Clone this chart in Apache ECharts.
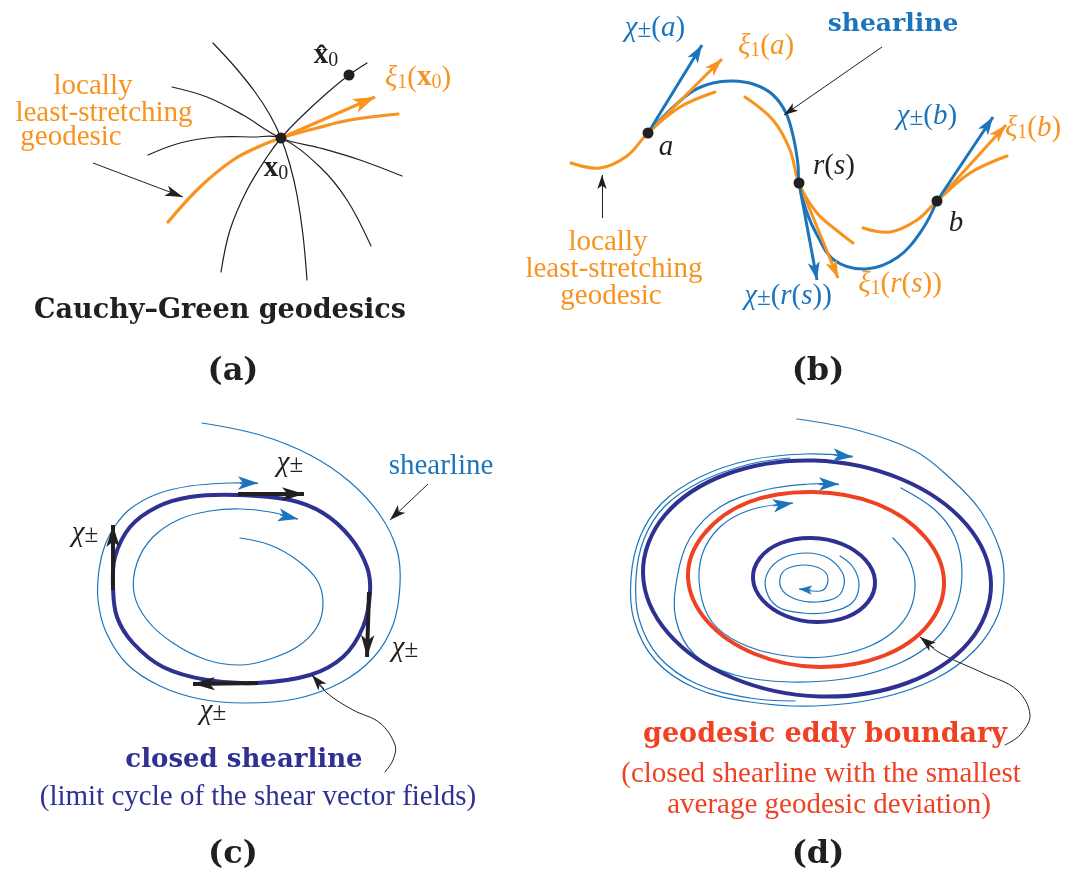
<!DOCTYPE html>
<html>
<head>
<meta charset="utf-8">
<script src="https://cdn.jsdelivr.net/npm/echarts@6/dist/echarts.min.js"></script>
<style>
html,body{margin:0;padding:0;background:#fff;}
#chart{width:1067px;height:879px;}
</style>
</head>
<body>
<div id="chart"></div>
<script>
// ---------- Panel (a): Cauchy–Green geodesics ----------
const geoA1 = [[213,43],[235,67],[255,92],[270,115],[281,138],[290,165],[297,195],[303,235],[307,280]];
const geoA2 = [[221,272],[230,230],[247,190],[267,157],[281,138],[300,118],[327,93],[349,75],[367,63]];
const geoA3 = [[172,87],[207,97],[243,115],[281,138],[320,148],[360,160],[402,176]];
const geoA4 = [[148,155],[180,143],[217,137],[253,137],[281,138],[320,167],[347,200],[371,246]];
const leastA = [[168,222],[200,187],[233,160],[258,147],[281,138],[317,128],[350,120],[398,114]];
const arrowXiA = [[281,138],[375,97]];
const pointerA = [[93,163],[183,197]];
const dotsA = [[281,138],[349,75]];

// ---------- Panel (b): shearline ----------
const shearB = [[648,133],[670,110],[693,91],[713,83],[733,81],[753,84],[772,94],[786,113],[794,140],[798,165],[799,183],[806,210],[816,233],[834,260],[866,269],[898,257],[922,230],[937,201]];
const leastB1 = [[571,163],[600,168],[627,156],[648,133],[680,107],[715,92]];
const leastB2 = [[745,97],[773,120],[790,150],[799,183],[817,213],[840,233],[853,243]];
const leastB3 = [[863,228],[890,232],[917,220],[937,201],[970,173],[1007,156]];
const chiB = [[[648,133],[702,45]],[[799,183],[817,280]],[[937,201],[993,117]]];
const xiB = [[[648,133],[722,59]],[[799,183],[838,278]],[[937,201],[1006,125]]];
const pointersB = [[[882,47],[784,115]],[[602,218],[602,175]]];
const dotsB = [[648,133],[799,183],[937,201]];

// ---------- Panel (c): closed shearline ----------
const closedC = [[237,495],[290,500],[323,513],[350,537],[367,567],[370,593],[363,627],[343,657],[310,675],[257,683],[207,680],[163,667],[133,643],[117,617],[113,587],[115,557],[130,527],[157,507],[190,497]];
const spiralC1 = [[202,423],[260,435],[310,455],[350,482],[380,515],[397,550],[400,585],[393,625],[373,658],[340,683],[295,699],[245,703],[200,699],[160,686],[127,664],[106,632],[98,600],[99,570],[105,545],[115,526],[130,509],[157,494],[190,486],[230,483],[257,483]];
const spiralC2 = [[240,538],[270,545],[297,560],[317,580],[323,603],[317,627],[297,647],[267,660],[240,665],[207,660],[173,643],[147,620],[134,593],[137,563],[153,537],[180,519],[210,511],[240,509],[270,512],[297,519]];
const headsC = [[[240,483],[258,483]],[[280,515],[298,519]]];
const chiC = [[[238,494],[304,494]],[[113,590],[113,525]],[[369,592],[367,657]],[[258,683],[193,684]]];
const pointerC1 = [[[428,484],[390,520]]];
const curlC = [[385,772],[393,760],[395,745],[380,723],[353,710],[327,693],[312,675]];
const curlHeadC = [[[324,689],[312,675]]];

// ---------- Panel (d): geodesic eddy boundary ----------
const outerD = [[991,583.5],[969,642],[907,683],[820,696.5],[733,678],[668,633],[643,573.5],[665,515],[727,474],[814,460.5],[901,479],[966,524]];
const redD = [[944,581],[928,625],[883,656],[819,667],[755,654],[707,621],[688,577],[704,534],[749,502],[813,492],[877,504],[925,537]];
const innerD = [[875,581],[868,602],[847,617],[816.5,622],[786,616],[762.5,600],[753,579],[760,558],[781,543],[811.5,538],[842,544],[865.5,560]];
const spiralD1 = [[797,419],[857,430],[915,451],[950,478],[980,510],[1000,550],[1004,580],[998,615],[975,650],[935,679],[880,698],[815,706],[750,702],[695,688],[655,660],[634,620],[631,578],[640,537],[662,503],[700,477],[750,460],[805,454],[852,456]];
const spiralD1b = [[795,701],[750,698],[697,684],[659,657],[639,619],[636,578],[644,539],[665,506],[702,481],[750,464],[790,458]];
const spiralD2 = [[901,488],[935,510],[955,537],[962,573],[955,610],[935,640],[900,663],[850,678],[790,682],[735,675],[695,655],[676,620],[677,578],[690,538],[720,507],[765,490],[810,484],[838,484]];
const spiralD3 = [[893,538],[908,557],[915,583],[910,610],[893,632],[865,648],[825,657],[780,655],[740,643],[712,622],[700,590],[702,555],[720,527],[750,510],[792,503]];
const spiralD4 = [[840,556],[853,567],[859,585],[852,603],[830,612],[803,613],[778,607],[766,590],[768,572],[783,558],[807,553],[828,558],[842,572],[844,585],[837,597],[817,602],[795,599],[781,588],[782,573],[795,566],[813,566],[826,573],[827,585],[820,591],[800,589]];
const headsD = [[[834,455],[853,457]],[[819,484],[839,484]],[[773,506],[793,503]]];
const headsDsmall = [[[811,590],[799,589]]];
const curlD = [[1005,745],[1020,735],[1030,715],[1017,690],[983,673],[940,653],[920,637]];
const curlHeadD = [[[934,648],[920,637]]];

// ---------- Texts ----------
const textOrange = [[93,86,'locally'],[104,113,'least-stretching'],[71,137,'geodesic'],[608,242,'locally'],[614,269,'least-stretching'],[611,296,'geodesic']];
const mathOrange = [[418,78,'{i|ξ}{sub|1}({bx|x}{sub|0})'],[766,46,'{i|ξ}{sub|1}({i|a})'],[1033,128,'{i|ξ}{sub|1}({i|b})'],[900,284,'{i|ξ}{sub|1}({i|r}({i|s}))']];
const mathBlue = [[655,28,'{i|χ}{pm|±}({i|a})'],[927,116,'{i|χ}{pm|±}({i|b})'],[788,296,'{i|χ}{pm|±}({i|r}({i|s}))']];
const mathBlack = [[326,56,'{bx|x̂}{sub|0}'],[276,169,'{bx|x}{sub|0}'],[666,147,'{i|a}'],[834,166,'{i|r}({i|s})'],[956,223,'{i|b}'],[290,463,'{i|χ}{pm|±}'],[85,533,'{i|χ}{pm|±}'],[405,648,'{i|χ}{pm|±}'],[213,711,'{i|χ}{pm|±}']];
const textBlue = [[441,466,'shearline']];
const boldBlue = [[893,24,'shearline']];
const boldBlack = [[220,311,'Cauchy–Green geodesics']];
const panelTags = [[233,372,'(a)'],[818,372,'(b)'],[233,855,'(c)'],[818,855,'(d)']];
const boldNavy = [[244,760,'closed shearline']];
const textNavy = [[258,797,'(limit cycle of the shear vector fields)']];
const boldRed = [[825,735,'geodesic eddy boundary']];
const textRed = [[821,774,'(closed shearline with the smallest'],[829,805,'average geodesic deviation)']];

// ---------- styling ----------
const ORANGE = '#f7931e', BLUE = '#1c75bc', NAVY = '#2e3192', RED = '#ef4123', BLACK = '#231f20';
const SERIF = '"Liberation Serif", "DejaVu Serif", serif';
const BOLDSERIF = '"DejaVu Serif", "Liberation Serif", serif';
const SMOOTH = 0.36;

// smooth curve drawn through the data points via the cartesian axes
function curve(data, color, width, z, closed) {
  return {type:'custom', coordinateSystem:'cartesian2d', data:data, silent:true, z:z||2, animation:false, clip:false,
    encode:{x:0, y:1},
    renderItem: function (params, api) {
      if (params.dataIndexInside !== 0) return null;
      const pts = [];
      for (let k = 0; k < params.dataInsideLength; k++) {
        pts.push(api.coord([api.value(0, k), api.value(1, k)]));
      }
      return {type: closed ? 'polygon' : 'polyline', silent:true,
        shape:{points:pts, smooth:SMOOTH},
        style:{fill:'none', stroke:color, lineWidth:width, lineCap:'round', lineJoin:'round'}};
    }};
}
function arrows(segs, color, width, head, z) {
  return {type:'lines', coordinateSystem:'cartesian2d', silent:true, z:z||5, animation:false,
    symbol:['none','arrow'], symbolSize:[1, head],
    lineStyle:{color:color, width:width, opacity:1, curveness:0},
    data: segs.map(s => ({coords:s}))};
}
function richSet(size, color, family) {
  const f = family || SERIF;
  return {
    i:{fontStyle:'italic', fontFamily:f, fontSize:size, color:color},
    bx:{fontWeight:'bold', fontFamily:f, fontSize:size, color:color},
    sub:{fontFamily:SERIF, fontSize:Math.round(size*0.7), color:color, lineHeight:10, verticalAlign:'bottom'},
    pm:{fontFamily:SERIF, fontSize:Math.round(size*0.85), color:color, lineHeight:16, verticalAlign:'bottom'}
  };
}
function texts(arr, color, size, bold, family) {
  return {type:'scatter', silent:true, z:10, animation:false, symbolSize:0,
    itemStyle:{color:'rgba(255,255,255,0)', opacity:1},
    data: arr.map(d => ({value:[d[0], d[1]], name:d[2]})),
    label:{show:true, position:'inside', formatter: p => p.name, opacity:1,
      color:color, fontSize:size, fontFamily:family||SERIF, fontWeight: bold?'bold':'normal',
      textBorderWidth:0, lineHeight:size, rich: richSet(size, color, family)}};
}

const chart = echarts.init(document.getElementById('chart'), null, {renderer:'canvas'});
chart.setOption({
  animation:false,
  backgroundColor:'#ffffff',
  grid:{left:0, right:0, top:0, bottom:0, containLabel:false},
  xAxis:{type:'value', min:0, max:1067, show:false},
  yAxis:{type:'value', min:0, max:879, inverse:true, show:false},
  series:[
    // (a)
    curve(geoA1, BLACK, 1.2), curve(geoA2, BLACK, 1.2), curve(geoA3, BLACK, 1.2), curve(geoA4, BLACK, 1.2),
    curve(leastA, ORANGE, 3.2, 3),
    arrows([arrowXiA], ORANGE, 3.2, [11,22]),
    arrows([pointerA], BLACK, 1, [8,18]),
    {type:'scatter', silent:true, z:8, symbolSize:11, itemStyle:{color:BLACK, opacity:1}, data:dotsA.concat(dotsB)},
    // (b)
    curve(leastB1, ORANGE, 3, 2), curve(leastB2, ORANGE, 3, 2), curve(leastB3, ORANGE, 3, 2),
    curve(shearB, BLUE, 3, 3),
    arrows(xiB, ORANGE, 3, [9,18], 5),
    arrows(chiB, BLUE, 3, [9,18], 6),
    arrows(pointersB, BLACK, 1, [7,14]),
    // (c)
    curve(spiralC1, BLUE, 1.2), curve(spiralC2, BLUE, 1.2),
    arrows(headsC, BLUE, 1.2, [10,20]),
    curve(closedC, NAVY, 4, 3, true),
    arrows(chiC, BLACK, 4, [10,22], 6),
    arrows(pointerC1, BLACK, 1, [8,16]),
    curve(curlC, BLACK, 1, 2),
    arrows(curlHeadC, BLACK, 1, [8,16]),
    // (d)
    curve(spiralD1, BLUE, 1.2), curve(spiralD1b, BLUE, 1.2), curve(spiralD2, BLUE, 1.2), curve(spiralD3, BLUE, 1.2), curve(spiralD4, BLUE, 1.2),
    arrows(headsD, BLUE, 1.2, [10,20]),
    arrows(headsDsmall, BLUE, 1.2, [7,13]),
    curve(outerD, NAVY, 4, 3, true), curve(redD, RED, 4, 3, true), curve(innerD, NAVY, 4, 3, true),
    curve(curlD, BLACK, 1, 2),
    arrows(curlHeadD, BLACK, 1, [8,16]),
    // texts
    texts(textOrange, ORANGE, 29),
    texts(mathOrange, ORANGE, 29),
    texts(mathBlue, BLUE, 29),
    texts(mathBlack, BLACK, 29),
    texts(textBlue, BLUE, 29),
    texts(boldBlue, BLUE, 25, true, BOLDSERIF),
    texts(boldBlack, BLACK, 27, true, BOLDSERIF),
    texts(panelTags, BLACK, 32, true, BOLDSERIF),
    texts(boldNavy, NAVY, 26, true, BOLDSERIF),
    texts(textNavy, NAVY, 29),
    texts(boldRed, RED, 27, true, BOLDSERIF),
    texts(textRed, RED, 29)
  ]
});
</script>
</body>
</html>
